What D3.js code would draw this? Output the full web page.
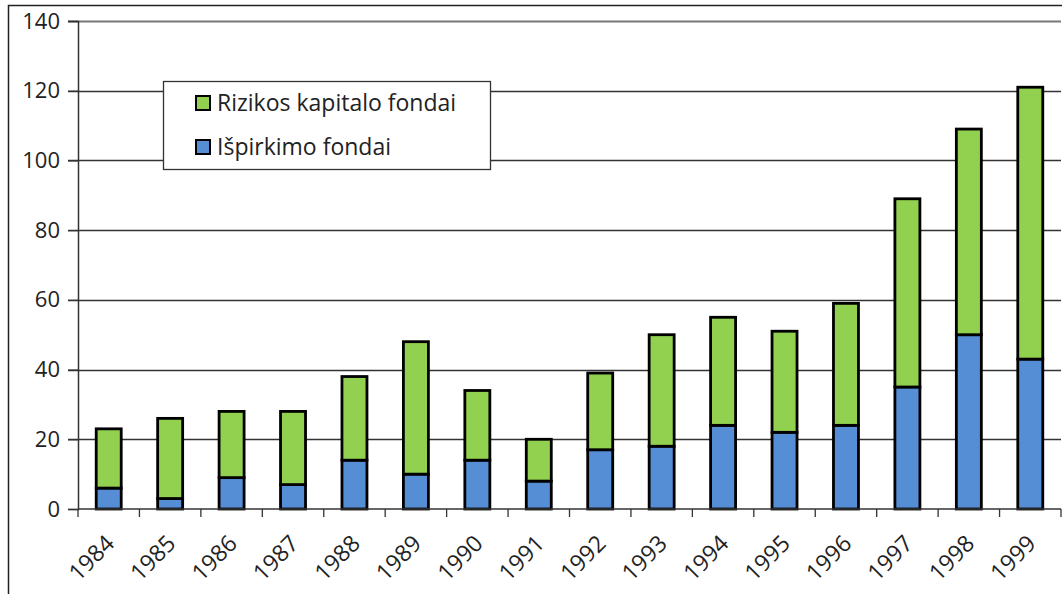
<!DOCTYPE html>
<html>
<head>
<meta charset="utf-8">
<script src="https://cdn.jsdelivr.net/npm/d3@7"></script>
<style>
  body { margin: 0; background: #fff; }
  text { font-family: "Open Sans", "Liberation Sans", sans-serif; fill: #222; }
</style>
</head>
<body>
<div id="chart"></div>
<script>
// data
const years = ["1984", "1985", "1986", "1987", "1988", "1989", "1990", "1991",
    "1992", "1993", "1994", "1995", "1996", "1997", "1998", "1999"];
const buyout = [6, 3, 9, 7, 14, 10, 14, 8, 17, 18, 24, 22, 24, 35, 50, 43];
const venture = [17, 23, 19, 21, 24, 38, 20, 12, 22, 32, 31, 29, 35, 54, 59, 78];
const yTicks = [0, 20, 40, 60, 80, 100, 120, 140];

const seriesNames = ["Išpirkimo fondai", "Rizikos kapitalo fondai"];
const colors = ["#558ed5", "#92d050"];

const width = 1062, height = 594;
const margin = {left: 78, right: 1, top: 21, bottom: 85};

const svg = d3.select("#chart").append("svg")
    .attr("width", width)
    .attr("height", height);

// outer frame (cut off at right and bottom)
svg.append("rect")
    .attr("x", 8.5).attr("y", 5.5)
    .attr("width", 1200).attr("height", 800)
    .attr("fill", "none")
    .attr("stroke", "#222")
    .attr("stroke-width", 1.5);

const xScale = d3.scaleBand()
    .domain(years)
    .range([margin.left, width - margin.right])
    .paddingInner(0.6)
    .paddingOuter(0.3);

const yScale = d3.scaleLinear()
    .domain([0, 140])
    .range([height - margin.bottom, margin.top]);

// gridlines
svg.append("g")
    .selectAll("line")
    .data(yTicks.filter(d => d > 0))
    .join("line")
    .attr("x1", margin.left - 10)
    .attr("x2", width - margin.right)
    .attr("y1", d => Math.round(yScale(d)) + 0.5)
    .attr("y2", d => Math.round(yScale(d)) + 0.5)
    .attr("stroke", d => d == 140 ? "#777" : "#333")
    .attr("stroke-width", d => d == 140 ? 2 : 1.3);

// y axis
const yAxis = d3.axisLeft(yScale).tickValues(yTicks).tickSize(10).tickPadding(8);
const gy = svg.append("g")
    .attr("transform", "translate(" + margin.left + ",0)")
    .call(yAxis);
gy.select(".domain").attr("stroke", "#333").attr("stroke-width", 1.5);
gy.selectAll(".tick line").attr("stroke", "#333").attr("stroke-width", 1.3);
gy.selectAll("text").style("font-size", "22px").attr("fill", "#222");

// stack
const rows = years.map((y, i) => ({year: y, b: buyout[i], v: venture[i]}));
const stack = d3.stack().keys(["b", "v"])(rows);

const bw = 25;
svg.append("g")
    .selectAll("g")
    .data(stack)
    .join("g")
    .attr("fill", (d, i) => colors[i])
    .selectAll("rect")
    .data(d => d)
    .join("rect")
    .attr("x", d => xScale(d.data.year) + xScale.bandwidth() / 2 - bw / 2)
    .attr("width", bw)
    .attr("y", d => yScale(d[1]))
    .attr("height", d => yScale(d[0]) - yScale(d[1]))
    .attr("stroke", "#000")
    .attr("stroke-width", 2.8);

// x axis with ticks on category boundaries
const x0 = yScale(0);
const bounds = d3.range(years.length + 1).map(i => margin.left + i * (width - margin.right - margin.left) / years.length);
svg.append("line")
    .attr("x1", margin.left).attr("x2", width - margin.right)
    .attr("y1", x0).attr("y2", x0)
    .attr("stroke", "#333").attr("stroke-width", 1.5);
svg.append("g")
    .selectAll("line")
    .data(bounds)
    .join("line")
    .attr("x1", d => d).attr("x2", d => d)
    .attr("y1", x0).attr("y2", x0 + 8)
    .attr("stroke", "#333").attr("stroke-width", 1.3);

svg.append("g")
    .selectAll("text")
    .data(years)
    .join("text")
    .attr("transform", d => "translate(" + (xScale(d) + xScale.bandwidth() / 2 + 7) + "," + (x0 + 36) + ") rotate(-45)")
    .attr("text-anchor", "end")
    .style("font-size", "23px")
    .text(d => d);

// legend
const legend = svg.append("g");
legend.append("rect")
    .attr("x", 163.5).attr("y", 81.5)
    .attr("width", 327).attr("height", 88)
    .attr("fill", "#fff")
    .attr("stroke", "#333")
    .attr("stroke-width", 1.3);
const legendItems = [1, 0];
legendItems.forEach((k, i) => {
    const cy = 103 + i * 44;
    legend.append("rect")
        .attr("x", 196).attr("y", cy - 7)
        .attr("width", 14).attr("height", 14)
        .attr("fill", colors[k])
        .attr("stroke", "#000")
        .attr("stroke-width", 2);
    legend.append("text")
        .attr("x", 217).attr("y", cy)
        .attr("dy", "0.35em")
        .style("font-size", "23px")
        .text(seriesNames[k]);
});
</script>
</body>
</html>
